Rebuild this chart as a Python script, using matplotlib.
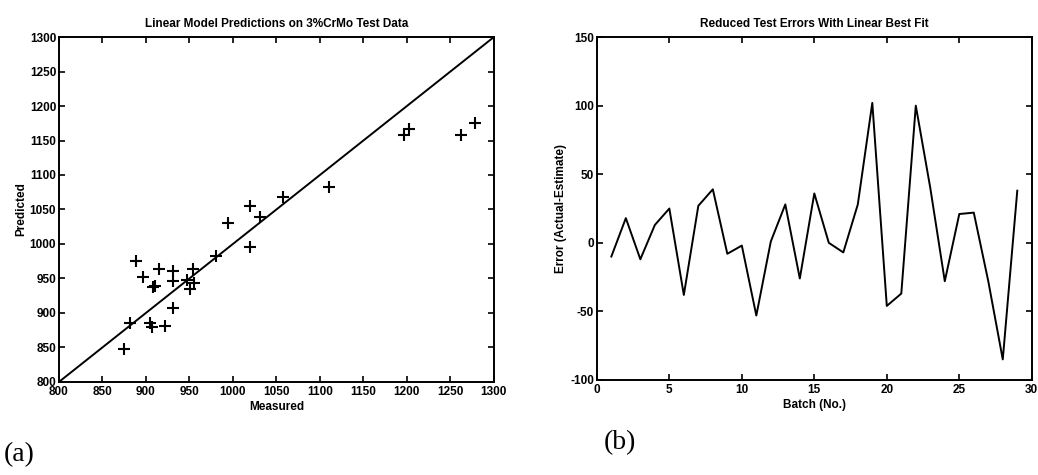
#!/usr/bin/env python3
import numpy as np
import matplotlib
matplotlib.use('Agg')
import matplotlib.pyplot as plt

plt.rcParams['font.family'] = ['Liberation Sans', 'DejaVu Sans']
plt.rcParams['font.weight'] = 'bold'
plt.rcParams['axes.titleweight'] = 'bold'
plt.rcParams['axes.labelweight'] = 'bold'
plt.rcParams['axes.unicode_minus'] = False
plt.rcParams['xtick.direction'] = 'in'
plt.rcParams['ytick.direction'] = 'in'
plt.rcParams['xtick.top'] = True
plt.rcParams['ytick.right'] = True

# (a) 測定値と予測値
measured = [875, 882, 888, 897, 905, 907, 908, 910, 915, 922, 931, 931, 931,
            947, 951, 954, 955, 980, 994, 1020, 1020, 1031, 1057, 1110,
            1197, 1202, 1262, 1278]
predicted = [847, 885, 976, 952, 885, 880, 937, 939, 963, 881, 907, 946, 961,
             948, 934, 963, 943, 982, 1031, 1055, 996, 1039, 1068, 1083,
             1158, 1166, 1158, 1175]
fit_line = [800, 1300]

# (b) バッチごとの誤差
batch = np.arange(1, 30)
error = [-10, 18, -12, 13, 25, -38, 27, 39, -8, -2, -53, 1, 28, -26, 36,
         0, -7, 28, 102, -46, -37, 100, 40, -28, 21, 22, -28, -85, 38]

fig = plt.figure(figsize=(10.38, 4.75), dpi=100)

# 左図
ax1 = fig.add_axes([0.0568, 0.196, 0.419, 0.726])
ax1.plot(fit_line, fit_line, color='k', lw=1.4)
ax1.plot(measured, predicted, '+', color='k', ms=9, mew=1.5)
ax1.set_xlim(800, 1300)
ax1.set_ylim(800, 1300)
ax1.set_xticks(np.arange(800, 1301, 50))
ax1.set_yticks(np.arange(800, 1301, 50))
ax1.set_xlabel('Measured', fontsize=8.5, labelpad=2)
ax1.set_ylabel('Predicted', fontsize=8.5, labelpad=2)
ax1.set_title('Linear Model Predictions on 3%CrMo Test Data', fontsize=8.5, pad=7)

# 右図
ax2 = fig.add_axes([0.575, 0.2, 0.419, 0.722])
ax2.plot(batch, error, color='k', lw=1.4)
ax2.set_xlim(0, 30)
ax2.set_ylim(-100, 150)
ax2.set_xticks(np.arange(0, 31, 5))
ax2.set_yticks(np.arange(-100, 151, 50))
ax2.set_xlabel('Batch (No.)', fontsize=8.5, labelpad=2)
ax2.set_ylabel('Error (Actual-Estimate)', fontsize=8.5, labelpad=2)
ax2.set_title('Reduced Test Errors With Linear Best Fit', fontsize=8.5, pad=7)

for ax in (ax1, ax2):
    ax.tick_params(labelsize=8.5, length=4, width=1.2, pad=2)
    ax.tick_params(axis='x', pad=3)
    for sp in ax.spines.values():
        sp.set_linewidth(1.4)

fig.text(0.004, 0.03, '(a)', family=['Liberation Serif', 'DejaVu Serif'],
         fontsize=20, weight='normal')
fig.text(0.582, 0.055, '(b)', family=['Liberation Serif', 'DejaVu Serif'],
         fontsize=20, weight='normal')

plt.savefig('out.png', dpi=100)
plt.close()
